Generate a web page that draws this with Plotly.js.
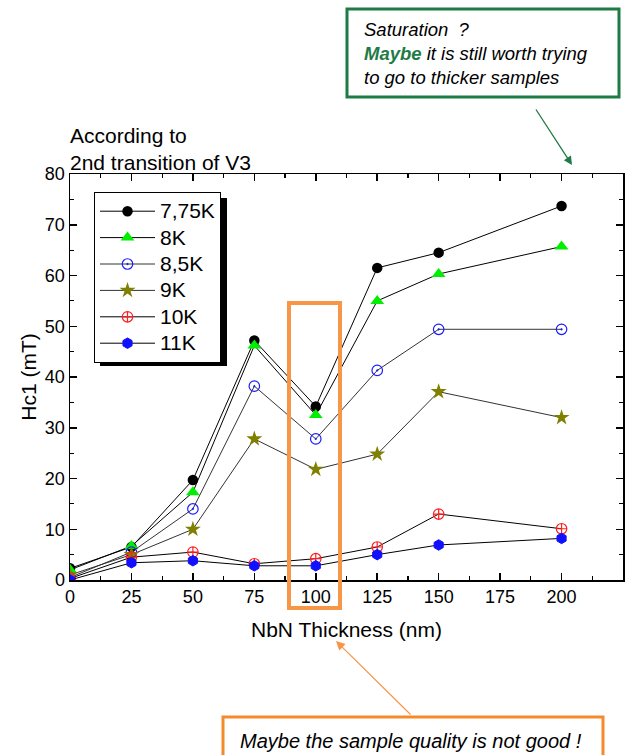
<!DOCTYPE html>
<html><head><meta charset="utf-8">
<script src="https://cdn.plot.ly/plotly-3.0.1.min.js"></script>
<style>html,body{margin:0;padding:0;background:#fff}#chart{width:637px;height:755px}</style>
</head><body><div id="chart"></div>
<script>
const thickness = [0, 25, 50, 75, 100, 125, 150, 200];
const hc_775K = [2.3, 6.5, 19.7, 47.2, 34.2, 61.5, 64.5, 73.7];
const hc_8K   = [2.0, 6.7, 17.3, 46.2, 32.5, 55.0, 60.3, 65.7];
const hc_85K  = [0.5, 5.5, 14.0, 38.2, 27.8, 41.3, 49.4, 49.4];
const hc_9K   = [1.0, 5.0, 10.0, 27.8, 21.8, 24.8, 37.1, 32.0];
const hc_10K  = [0.3, 4.5, 5.5, 3.2, 4.2, 6.5, 13.0, 10.1];
const hc_11K  = [0.0, 3.4, 3.8, 2.8, 2.8, 5.0, 6.9, 8.2];
const seriesNames = ['7,75K', '8K', '8,5K', '9K', '10K', '11K'];

const FONT = 'Arial, "Liberation Sans", sans-serif';
const L = 70, T = 174, W = 553, H = 406;
const px = v => (v - L) / W;
const py = v => (T + H - v) / H;

function tr(y, name, marker, lineColor) {
  return {x: thickness, y: y, name: '<span style="font-size:21px">' + name + '</span>',
    type: 'scatter', mode: 'lines+markers',
    line: {color: lineColor || '#000', width: 1}, marker: marker};
}
const data = [
  tr(hc_775K, seriesNames[0], {symbol: 'circle', size: 10.5, color: '#000'}),
  tr(hc_8K, seriesNames[1], {symbol: 'triangle-up', size: 12, color: '#00ee00'}),
  tr(hc_85K, seriesNames[2], {symbol: 'circle-open-dot', size: 10.5, color: '#1a1aff', line: {width: 1.2}}, '#333'),
  tr(hc_9K, seriesNames[3], {symbol: 'star', size: 12, color: '#808000'}, '#333'),
  tr(hc_10K, seriesNames[4], {symbol: 'circle-cross-open', size: 10.5, color: '#ff2020', line: {width: 1.2}}),
  tr(hc_11K, seriesNames[5], {symbol: 'hexagon', size: 10.5, color: '#1010ff', line: {color: '#1010ff', width: 1}})
];

const axisCommon = {
  showline: true, linecolor: '#000', linewidth: 1.5, mirror: 'allticks',
  ticks: 'inside', ticklen: 7, tickwidth: 1.5, tickcolor: '#000',
  showgrid: false, zeroline: false,
  tickfont: {family: FONT, size: 18, color: '#000'}
};

const layout = {
  width: 637, height: 755,
  margin: {l: L, r: 637 - L - W, t: T, b: 755 - T - H},
  paper_bgcolor: '#fff', plot_bgcolor: '#fff',
  font: {family: FONT, color: '#000'},
  title: {text: 'According to<br>2nd transition of V3', font: {family: FONT, size: 21, color: '#000'},
    x: 0, xref: 'paper', xanchor: 'left', y: 1 - 143 / 755, yref: 'container', yanchor: 'middle'},
  xaxis: Object.assign({}, axisCommon, {range: [0, 225], tick0: 0, dtick: 25,
    minor: {dtick: 12.5, ticks: 'inside', ticklen: 4, tickwidth: 1.2, tickcolor: '#000'},
    title: {text: 'NbN Thickness (nm)', font: {family: FONT, size: 21, color: '#000'}, standoff: 16}}),
  yaxis: Object.assign({}, axisCommon, {range: [0, 80], tick0: 0, dtick: 10,
    minor: {dtick: 5, ticks: 'inside', ticklen: 4, tickwidth: 1.2, tickcolor: '#000'},
    title: {text: 'Hc1 (mT)', font: {family: FONT, size: 21, color: '#000'}, standoff: 2}}),
  showlegend: true,
  legend: {x: px(94), y: py(192), xanchor: 'left', yanchor: 'top',
    bgcolor: '#fff', bordercolor: '#000', borderwidth: 1,
    font: {family: FONT, size: 18, color: '#000'}, itemwidth: 55, tracegroupgap: 0},
  shapes: [
    {type: 'rect', xref: 'paper', yref: 'paper', x0: px(100), x1: px(227), y0: py(366), y1: py(198),
     fillcolor: '#000', line: {width: 0}, layer: 'above'},
    {type: 'rect', xref: 'paper', yref: 'paper', x0: px(289), x1: px(340), y0: py(608), y1: py(303),
     line: {color: '#f79646', width: 4}, fillcolor: 'rgba(0,0,0,0)', layer: 'above'},
    {type: 'rect', xref: 'paper', yref: 'paper', x0: px(347), x1: px(619), y0: py(97), y1: py(9),
     line: {color: '#1e7b45', width: 3}, fillcolor: '#fff', layer: 'above'},
    {type: 'rect', xref: 'paper', yref: 'paper', x0: px(223), x1: px(603), y0: py(765), y1: py(717),
     line: {color: '#f58a2a', width: 3}, fillcolor: '#fff', layer: 'above'}
  ],
  annotations: [
    {xref: 'paper', yref: 'paper', x: px(362), y: py(53), xanchor: 'left', yanchor: 'middle',
     showarrow: false, align: 'left',
     font: {family: FONT, size: 18.5, color: '#000'},
     text: '<i>Saturation  ?<br><b><span style="color:#1e7b45">Maybe</span></b> it is still worth trying<br>to go to thicker samples</i>'},
    {xref: 'paper', yref: 'paper', x: px(572), y: py(165), ax: 535 - 572, ay: 108 - 165,
     showarrow: true, arrowhead: 2, arrowsize: 1.3, arrowwidth: 1.3, arrowcolor: '#1e7b45', text: ''},
    {xref: 'paper', yref: 'paper', x: px(238), y: py(741), xanchor: 'left', yanchor: 'middle',
     showarrow: false, align: 'left',
     font: {family: FONT, size: 20, color: '#000'},
     text: '<i>Maybe the sample quality is not good !</i>'},
    {xref: 'paper', yref: 'paper', x: px(336), y: py(641), ax: 412 - 336, ay: 716 - 641,
     showarrow: true, arrowhead: 2, arrowsize: 1.5, arrowwidth: 1.2, arrowcolor: '#f79646', text: ''}
  ]
};
Plotly.newPlot('chart', data, layout, {staticPlot: true, displayModeBar: false});
</script></body></html>
